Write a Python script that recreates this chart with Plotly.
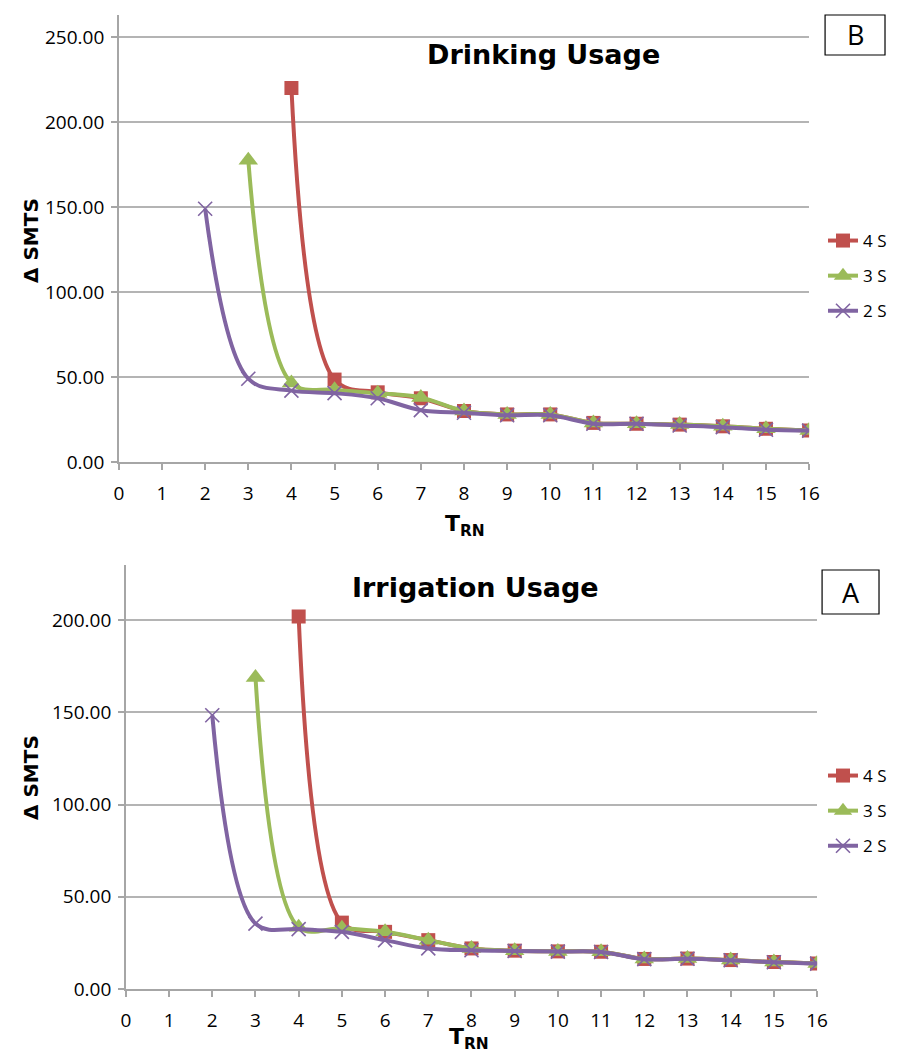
import plotly.graph_objects as go

# ---- data: Drinking Usage (panel B) ----
d_x4 = [4, 5, 6, 7, 8, 9, 10, 11, 12, 13, 14, 15, 16]
d_y4 = [220, 48.5, 41, 37.5, 30, 28, 28, 23, 22.5, 22, 21, 19.5, 18.5]
d_x3 = [3, 4, 5, 6, 7, 8, 9, 10, 11, 12, 13, 14, 15, 16]
d_y3 = [177.5, 46.5, 42.5, 40.5, 38, 30, 28, 28, 23, 22.5, 22, 21, 19.5, 18.5]
d_x2 = [2, 3, 4, 5, 6, 7, 8, 9, 10, 11, 12, 13, 14, 15, 16]
d_y2 = [149, 49, 42, 40.5, 37.5, 30.5, 29, 27.5, 27.5, 22.5, 22.5, 21.5, 20.5, 19, 18.5]

# ---- data: Irrigation Usage (panel A) ----
i_x4 = [4, 5, 6, 7, 8, 9, 10, 11, 12, 13, 14, 15, 16]
i_y4 = [202, 36, 31, 26.5, 22, 20.8, 20.4, 20.2, 16.3, 16.5, 15.7, 14.6, 13.9]
i_x3 = [3, 4, 5, 6, 7, 8, 9, 10, 11, 12, 13, 14, 15, 16]
i_y3 = [169, 33.5, 33, 31, 26.5, 22, 20.8, 20.4, 20.2, 16.3, 16.5, 15.7, 14.6, 13.9]
i_x2 = [2, 3, 4, 5, 6, 7, 8, 9, 10, 11, 12, 13, 14, 15, 16]
i_y2 = [148.5, 35.5, 32.5, 31, 26.5, 22, 21, 20.6, 20.3, 20.1, 16.2, 16.4, 15.6, 14.5, 13.8]

series_names = ["4 S", "3 S", "2 S"]
colors = ["#C0504D", "#9BBB59", "#8064A2"]
symbols = ["square", "triangle-up", "x-thin"]
x_ticks = list(range(0, 17))

FONT = "Open Sans"
BOLD_FONT = "DejaVu Sans"

fig = go.Figure()

def add_series(xs, ys, i, xa, ya, legend):
    sym = symbols[i]
    if sym == "x-thin":
        marker = dict(symbol=sym, size=14, line=dict(color=colors[i], width=1.6))
    elif sym == "triangle-up":
        marker = dict(symbol=sym, size=17, color=colors[i], line=dict(width=0))
    else:
        marker = dict(symbol=sym, size=14, color=colors[i], line=dict(width=0))
    fig.add_trace(go.Scatter(
        x=xs, y=ys, mode="lines+markers", name=series_names[i],
        line=dict(color=colors[i], width=4, shape="spline", smoothing=1),
        marker=marker, xaxis=xa, yaxis=ya, legend=legend,
        legendgroup=legend + series_names[i],
    ))

for i, (xs, ys) in enumerate([(d_x4, d_y4), (d_x3, d_y3), (d_x2, d_y2)]):
    add_series(xs, ys, i, "x", "y", "legend")
for i, (xs, ys) in enumerate([(i_x4, i_y4), (i_x3, i_y3), (i_x2, i_y2)]):
    add_series(xs, ys, i, "x2", "y2", "legend2")

axis_common = dict(
    showline=True, linecolor="#a6a6a6", linewidth=1.5,
    ticks="outside", tickcolor="#a6a6a6", ticklen=6, tickwidth=1.5,
    tickfont=dict(family=FONT, size=19, color="#000"),
    zeroline=False, automargin=False,
)
xaxis_common = dict(axis_common, tickmode="array", tickvals=x_ticks,
                    ticktext=[str(v) for v in x_ticks], showgrid=False,
                    ticklabelstandoff=7)
yaxis_common = dict(axis_common, tickformat=".2f", dtick=50, tick0=0,
                    showgrid=True, gridcolor="#b4b4b4", gridwidth=1.5,
                    ticklabelstandoff=3)

# the page body adds an 8px offset; positions below are in screenshot pixels
OFF = 8
W, H = 900 - 2 * OFF, 1061 - 2 * OFF
def px_x(v):
    return (v - OFF) / W
def px_y(v):
    return 1 - (v - OFF) / H

fig.update_layout(
    width=W, height=H, margin=dict(l=0, r=0, t=0, b=0),
    paper_bgcolor="white", plot_bgcolor="white",
    font=dict(family=FONT, color="#000"),
    xaxis=dict(xaxis_common, domain=[px_x(119), px_x(810)], range=[0, 16], anchor="y"),
    yaxis=dict(yaxis_common, domain=[px_y(462), px_y(15)], range=[0, 263], anchor="x"),
    xaxis2=dict(xaxis_common, domain=[px_x(126), px_x(818)], range=[0, 16], anchor="y2"),
    yaxis2=dict(yaxis_common, domain=[px_y(989), px_y(565)], range=[0, 230], anchor="x2"),
    legend=dict(x=px_x(824), y=px_y(276), xanchor="left", yanchor="middle",
                font=dict(family=FONT, size=17), tracegroupgap=10, bgcolor="rgba(0,0,0,0)"),
    legend2=dict(x=px_x(824), y=px_y(811), xanchor="left", yanchor="middle",
                 font=dict(family=FONT, size=17), tracegroupgap=10, bgcolor="rgba(0,0,0,0)"),
    showlegend=True,
)

def ann(text, x, y, size, family=FONT, angle=0):
    fig.add_annotation(text=text, x=px_x(x), y=px_y(y), xref="paper", yref="paper",
                       xanchor="center", yanchor="middle", showarrow=False, textangle=angle,
                       font=dict(family=family, size=size, color="#000"))

# chart titles
ann("<b>Drinking Usage</b>", 544, 55, 27, BOLD_FONT)
ann("<b>Irrigation Usage</b>", 476, 587, 27, BOLD_FONT)

# axis titles
ann("<b>Δ SMTS</b>", 31, 240, 20, BOLD_FONT, -90)
ann("<b>Δ SMTS</b>", 31, 777, 20, BOLD_FONT, -90)
ann("<b>T<sub>RN</sub></b>", 466, 525, 22, BOLD_FONT)
ann("<b>T<sub>RN</sub></b>", 470, 1038, 22, BOLD_FONT)

# panel letter boxes
for (x0, x1, y0, y1, t) in [(826, 886, 15, 55, "B"), (823, 880, 570, 614, "A")]:
    fig.add_shape(type="rect", xref="paper", yref="paper",
                  x0=px_x(x0), x1=px_x(x1), y0=px_y(y1), y1=px_y(y0),
                  line=dict(color="#000", width=1.2), fillcolor="white")
    ann(t, (x0 + x1) / 2, (y0 + y1) / 2, 27)

fig.write_html("out.html")
